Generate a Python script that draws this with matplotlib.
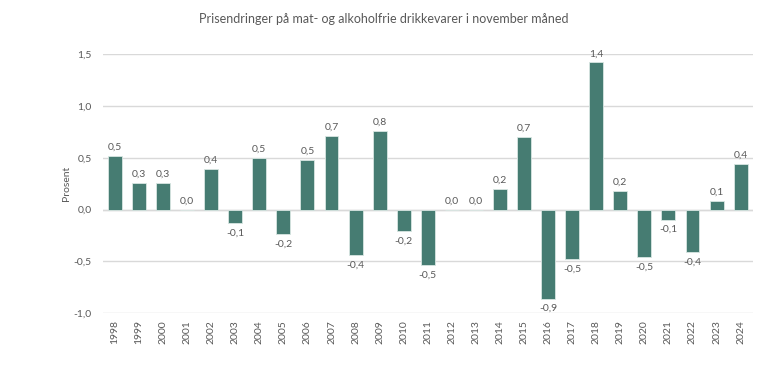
import matplotlib
matplotlib.use('Agg')
import matplotlib.pyplot as plt

# ---------------- Data ----------------
years = [str(y) for y in range(1998, 2025)]
changes = [0.52, 0.26, 0.255, 0.0, 0.39, -0.13, 0.50, -0.24, 0.48, 0.71,
           -0.44, 0.76, -0.21, -0.54, 0.0, 0.0, 0.20, 0.70, -0.86, -0.48,
           1.42, 0.18, -0.46, -0.10, -0.41, 0.08, 0.44]
y_ticks = [-1.0, -0.5, 0.0, 0.5, 1.0, 1.5]

BAR_COLOR = '#467C72'
TEXT_COLOR = '#595959'
GRID_COLOR = '#D9D9D9'

plt.rcParams['font.family'] = ['Lato', 'DejaVu Sans']


def comma(v, nd=1):
    s = f'{v:.{nd}f}'.replace('.', ',')
    if s == '-0,0':
        s = '0,0'
    return s


fig = plt.figure(figsize=(7.68, 3.68), dpi=100)
ax = fig.add_axes([0.134, 0.149, 0.846, 0.704])

x = list(range(len(years)))
ax.bar(x, changes, width=0.58, color=BAR_COLOR, edgecolor='#D8E6E2',
       linewidth=0.6, zorder=3)

for xi, v in zip(x, changes):
    if v >= 0:
        ax.text(xi, v + 0.04, comma(v), ha='center', va='bottom',
                fontsize=7.5, color=TEXT_COLOR)
    else:
        ax.text(xi, v - 0.05, comma(v), ha='center', va='top',
                fontsize=7.5, color=TEXT_COLOR)

ax.set_xlim(-0.5, len(years) - 0.5)
ax.set_ylim(-1.0, 1.5)
ax.set_yticks(y_ticks)
ax.set_yticklabels([comma(t) for t in y_ticks])
ax.set_xticks(x)
ax.set_xticklabels(years, rotation=90)
ax.tick_params(axis='both', length=0, labelsize=7.5, colors=TEXT_COLOR)
ax.tick_params(axis='y', pad=8)
ax.tick_params(axis='x', pad=5)

ax.grid(axis='y', color=GRID_COLOR, linewidth=1.0, zorder=0)
ax.axhline(0, color=GRID_COLOR, linewidth=1.0, zorder=1)
for s in ax.spines.values():
    s.set_visible(False)

ax.set_ylabel('Prosent', fontsize=7.5, color=TEXT_COLOR, labelpad=2)
fig.suptitle('Prisendringer på mat- og alkoholfrie drikkevarer i november måned',
             fontsize=9, color=TEXT_COLOR, y=0.965)

fig.savefig('out.png', dpi=100)
